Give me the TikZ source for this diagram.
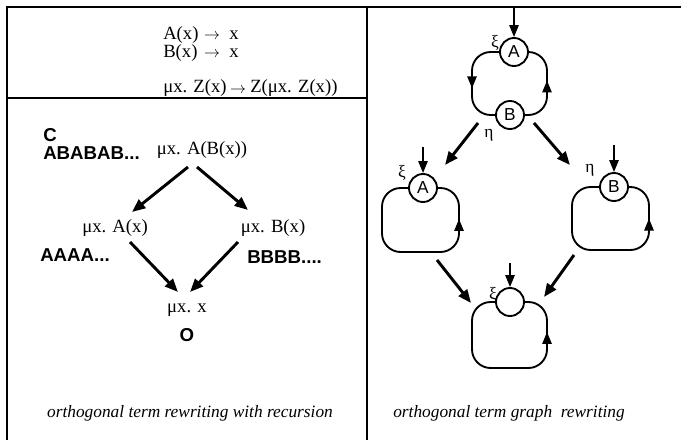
\documentclass[tikz,border=0pt]{standalone}
\usepackage{fontspec}
\setmainfont{Liberation Serif}
\setsansfont{Liberation Sans}
\usetikzlibrary{arrows.meta,decorations.markings}

\begin{document}
\begin{tikzpicture}[x=0.75pt,y=-0.75pt,
  frame/.style={line width=1.6pt},
  term/.style={font=\fontsize{14}{16}\selectfont, inner sep=0pt},
  word/.style={font=\sffamily\bfseries\fontsize{14}{16}\selectfont, inner sep=0pt},
  rarrow/.style={font=\fontsize{12}{12}\selectfont, inner sep=0pt},
  bigarrow/.style={line width=2.2pt,-{Triangle[length=10pt,width=8pt]}},
  vert/.style={circle,draw,line width=1.4pt,minimum size=21pt,inner sep=0pt,
               font=\sffamily\fontsize{13}{13}\selectfont},
  lab/.style={font=\fontsize{13}{13}\selectfont, inner sep=0pt},
  captext/.style={font=\itshape\fontsize{13}{15}\selectfont, inner sep=0pt},
  loopline/.style={line width=1.4pt, rounded corners=14pt},
  inarrow/.style={line width=1.3pt,-{Triangle[length=9pt,width=7pt]}},
  midhead/.style={postaction={decorate},
    decoration={markings, mark=at position #1 with {\arrow{Triangle[length=9pt,width=7pt]}}}},
]
\useasboundingbox (0,0) rectangle (681,440);

% frame and panel dividers
\draw[frame] (681,7) -- (7,7) -- (7,440);
\draw[frame] (367,7) -- (367,440);
\draw[frame] (7,98) -- (367,98);

% rewrite rules
\node[term,anchor=base west] (r1l) at (163,39) {A(x)};
\node[rarrow] (r1a) at (212,37) {$\rightarrow$};
\node[term,anchor=base west] (r1r) at (229,39) {x};
\node[term,anchor=base west] (r2l) at (163,57) {B(x)};
\node[rarrow] (r2a) at (212,55) {$\rightarrow$};
\node[term,anchor=base west] (r2r) at (229,57) {x};
\node[term,anchor=base west] (r3l) at (163,92) {μx. Z(x)};
\node[rarrow] (r3a) at (238,91) {$\rightarrow$};
\node[term,anchor=base west] (r3r) at (250,92) {Z(μx. Z(x))};

% term reductions
\node[term] (t0) at (202,150) {μx. A(B(x))};
\node[term] (t1) at (115,228) {μx. A(x)};
\node[term] (t2) at (273,228) {μx. B(x)};
\node[term] (t3) at (187,310) {μx. x};
\node[word,anchor=west] (wc) at (43,135) {C};
\node[word,anchor=west] (wab) at (43,153) {ABABAB...};
\node[word,anchor=west] (wa) at (40,255) {AAAA...};
\node[word,anchor=west] (wb) at (247,257) {BBBB....};
\node[word] (wo) at (187,335) {O};

\coordinate (p0l) at (188,167); \coordinate (p1t) at (132,212);
\coordinate (p0r) at (197,167); \coordinate (p2t) at (248,210);
\coordinate (p1b) at (130,242); \coordinate (p3l) at (178,292);
\coordinate (p2b) at (238,242); \coordinate (p3r) at (190,292);
\draw[bigarrow] (p0l) -- (p1t);
\draw[bigarrow] (p0r) -- (p2t);
\draw[bigarrow] (p1b) -- (p3l);
\draw[bigarrow] (p2b) -- (p3r);

% captions
\node[captext] (capl) at (190,413) {orthogonal term rewriting with recursion};
\node[captext,anchor=west] (capr) at (393,413) {orthogonal term graph\ \ rewriting};

% cyclic graph A <-> B
\node[vert] (ga) at (514,52) {A};
\node[vert] (gb) at (510,115) {B};
\node[lab] (ga-xi) at (495,43) {ξ};
\node[lab] (gb-eta) at (489,135) {η};
\coordinate (ga-in) at (514,7);
\draw[inarrow] (ga-in) -- (ga.north);
\draw[loopline,midhead=0.57] (ga.west) -- (472,52) -- (472,115) -- (gb.west);
\draw[loopline,midhead=0.55] (gb.east) -- (547,115) -- (547,52) -- (ga.east);

% graph A with self loop
\node[vert] (la) at (423,188) {A};
\node[lab] (la-xi) at (402,173) {ξ};
\coordinate (la-in) at (423,147);
\draw[inarrow] (la-in) -- (la.north);
\draw[loopline,midhead=0.8] (la.west) -- (382,188) -- (382,252) -- (459,252) -- (459,188) -- (la.east);

% graph B with self loop
\node[vert] (rb) at (614,187) {B};
\node[lab] (rb-eta) at (590,170) {η};
\coordinate (rb-in) at (614,145);
\draw[inarrow] (rb-in) -- (rb.north);
\draw[loopline,midhead=0.8] (rb.west) -- (572,187) -- (572,250) -- (649,250) -- (649,187) -- (rb.east);

% graph with empty node
\node[vert] (bc) at (510,302) {};
\node[lab] (bc-xi) at (493,295) {ξ};
\coordinate (bc-in) at (510,263);
\draw[inarrow] (bc-in) -- (bc.north);
\draw[loopline,midhead=0.8] (bc.west) -- (472,302) -- (472,368) -- (547,368) -- (547,302) -- (bc.east);

% graph reductions
\coordinate (q0l) at (478,123); \coordinate (q1t) at (445,165);
\coordinate (q0r) at (534,123); \coordinate (q2t) at (570,165);
\coordinate (q1b) at (437,260); \coordinate (q3l) at (471,303);
\coordinate (q2b) at (574,255); \coordinate (q3r) at (544,297);
\draw[bigarrow] (q0l) -- (q1t);
\draw[bigarrow] (q0r) -- (q2t);
\draw[bigarrow] (q1b) -- (q3l);
\draw[bigarrow] (q2b) -- (q3r);
\end{tikzpicture}
\end{document}
